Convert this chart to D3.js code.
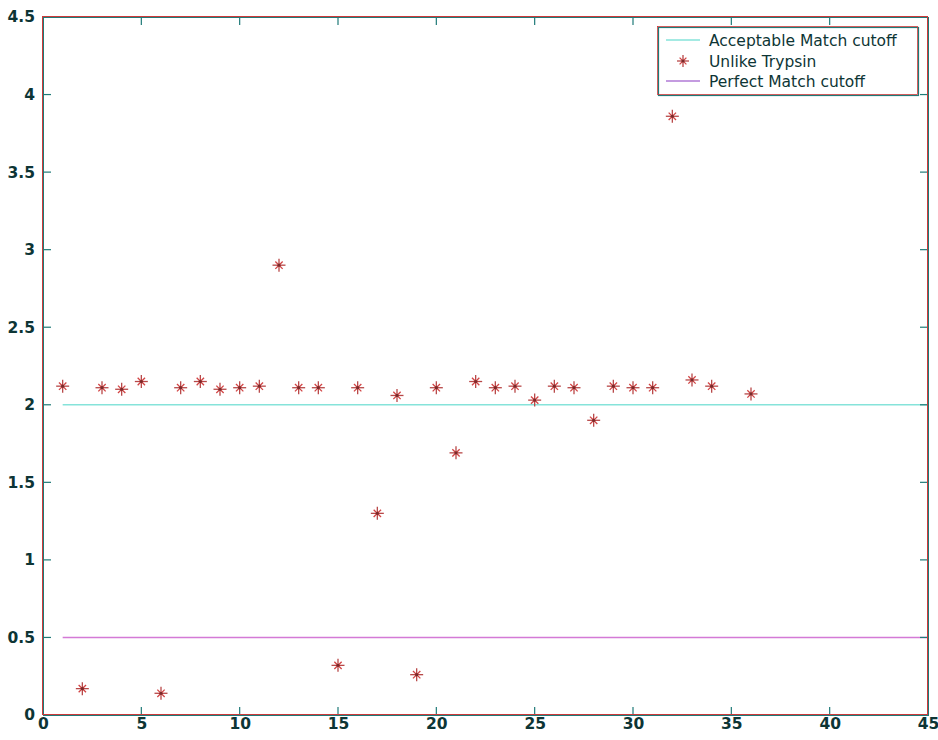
<!DOCTYPE html>
<html>
<head>
<meta charset="utf-8">
<script src="https://cdn.jsdelivr.net/npm/d3@7"></script>
<style>
  body { margin: 0; background: #fff; }
  text { font-family: "DejaVu Sans", sans-serif; fill: #0d3535; }
</style>
</head>
<body>
<div id="chart"></div>
<script>
// values
var xs = [1, 2, 3, 4, 5, 6, 7, 8, 9, 10, 11, 12, 13, 14, 15, 16, 17, 18,
          19, 20, 21, 22, 23, 24, 25, 26, 27, 28, 29, 30, 31, 32, 33, 34, 36];
var unlike = [2.12, 0.17, 2.11, 2.10, 2.15, 0.14, 2.11, 2.15, 2.10, 2.11, 2.12, 2.90,
              2.11, 2.11, 0.32, 2.11, 1.30, 2.06, 0.26, 2.11, 1.69, 2.15, 2.11, 2.12,
              2.03, 2.12, 2.11, 1.90, 2.12, 2.11, 2.11, 3.86, 2.16, 2.12, 2.07];
var acceptable = [[1, 2], [45, 2]];
var perfect = [[1, 0.5], [45, 0.5]];
var xTicks = [0, 5, 10, 15, 20, 25, 30, 35, 40, 45];
var yTicks = [0, 0.5, 1, 1.5, 2, 2.5, 3, 3.5, 4, 4.5];
var legendLabels = ["Acceptable Match cutoff", "Unlike Trypsin", "Perfect Match cutoff"];

var margin = {top: 17, right: 10, bottom: 25, left: 43};
var width = 938 - margin.left - margin.right;
var height = 740 - margin.top - margin.bottom;

var svg = d3.select("#chart").append("svg")
    .attr("width", 938)
    .attr("height", 740);

var g = svg.append("g")
    .attr("transform", "translate(" + margin.left + "," + margin.top + ")");

var x = d3.scaleLinear().domain([0, 45]).range([0, width]);
var y = d3.scaleLinear().domain([0, 4.5]).range([height, 0]);

var red = "#cc3a3a", teal = "#1f7a78";

// cutoff lines
var line = d3.line().x(function (d) { return x(d[0]); }).y(function (d) { return y(d[1]); });
g.append("path").datum(acceptable).attr("d", line)
    .attr("fill", "none").attr("stroke", "#86e3da").attr("stroke-width", 1.5);
g.append("path").datum(perfect).attr("d", line)
    .attr("fill", "none").attr("stroke", "#d47ad6").attr("stroke-width", 1.5);

// asterisk marker
function star(sel, cx, cy, r) {
    var s = sel.append("g").attr("transform", "translate(" + cx + "," + cy + ")");
    [0, 45, 90, 135].forEach(function (a) {
        var rad = a * Math.PI / 180;
        var k = (a % 90 === 0) ? r : r * 0.8;
        s.append("line")
            .attr("x1", -k * Math.cos(rad)).attr("y1", -k * Math.sin(rad))
            .attr("x2", k * Math.cos(rad)).attr("y2", k * Math.sin(rad))
            .attr("stroke", a % 90 === 0 ? "#b84848" : "#d24444")
            .attr("stroke-width", 1.3);
    });
    s.append("circle").attr("r", 1.6).attr("fill", "#7a2a2a");
}

var pts = g.append("g").attr("class", "points");
xs.forEach(function (d, i) {
    star(pts, x(d), y(unlike[i]), 6.5);
});

// axes: box with inward ticks on all sides
var tick = 8;
var xAxisCall = d3.axisBottom(x).tickValues(xTicks).tickSizeInner(0).tickSizeOuter(0).tickPadding(3);
var yAxisCall = d3.axisLeft(y).tickValues(yTicks).tickSizeInner(0).tickSizeOuter(0).tickPadding(8)
    .tickFormat(d3.format("~g"));

var xa = g.append("g").attr("transform", "translate(0," + height + ")").call(xAxisCall);
var ya = g.append("g").call(yAxisCall);
[xa, ya].forEach(function (a) {
    a.select(".domain").remove();
    a.selectAll("text").style("font-size", "15.5px").style("font-weight", "bold").attr("fill", "#0d3535");
});

var ticks = g.append("g").attr("stroke", teal).attr("stroke-width", 1.2);
xTicks.slice(1, -1).forEach(function (t) {
    ticks.append("line").attr("x1", x(t)).attr("x2", x(t)).attr("y1", height).attr("y2", height - tick);
    ticks.append("line").attr("x1", x(t)).attr("x2", x(t)).attr("y1", 0).attr("y2", tick);
});
yTicks.slice(1, -1).forEach(function (t) {
    ticks.append("line").attr("y1", y(t)).attr("y2", y(t)).attr("x1", 0).attr("x2", tick);
    ticks.append("line").attr("y1", y(t)).attr("y2", y(t)).attr("x1", width).attr("x2", width - tick);
});

// frame, red with a teal shadow line
g.append("rect").attr("x", 0.5).attr("y", 0.5).attr("width", width).attr("height", height)
    .attr("fill", "none").attr("stroke", teal).attr("stroke-width", 1);
g.append("rect").attr("x", -0.5).attr("y", -0.5).attr("width", width).attr("height", height)
    .attr("fill", "none").attr("stroke", red).attr("stroke-width", 1);

// legend
var lg = svg.append("g").attr("transform", "translate(658,27)");
lg.append("rect").attr("x", 0.5).attr("y", 0.5).attr("width", 260).attr("height", 68)
    .attr("fill", "#fff").attr("stroke", teal).attr("stroke-width", 1.2);
lg.append("rect").attr("x", -0.5).attr("y", -0.5).attr("width", 260).attr("height", 68)
    .attr("fill", "none").attr("stroke", red).attr("stroke-width", 0.8);

var rowY = [13, 34, 54];
lg.append("line").attr("x1", 8).attr("x2", 42).attr("y1", rowY[0]).attr("y2", rowY[0])
    .attr("stroke", "#86e3da").attr("stroke-width", 1.5);
star(lg, 25, rowY[1], 6);
lg.append("line").attr("x1", 8).attr("x2", 42).attr("y1", rowY[2]).attr("y2", rowY[2])
    .attr("stroke", "#b07ad6").attr("stroke-width", 1.5);

legendLabels.forEach(function (l, i) {
    lg.append("text").attr("x", 51).attr("y", rowY[i]).attr("dy", "0.36em")
        .style("font-size", "15.5px").text(l);
});
</script>
</body>
</html>
